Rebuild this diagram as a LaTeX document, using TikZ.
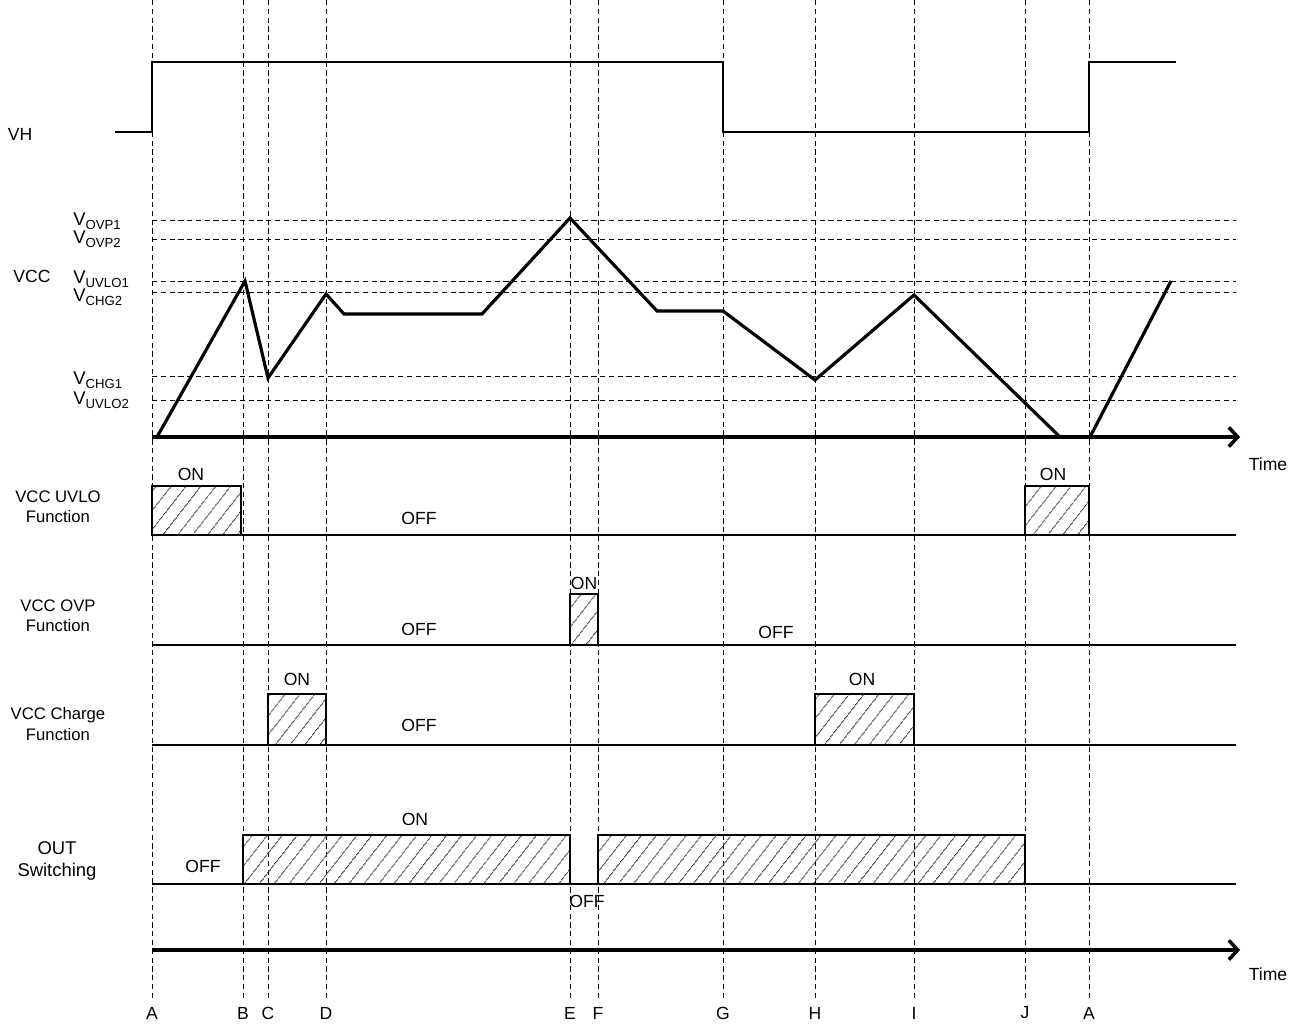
\documentclass[tikz,border=0pt]{standalone}
\usepackage{fontspec}
\setmainfont{Liberation Sans}
\usetikzlibrary{arrows.meta, patterns.meta}

\begin{document}
\begin{tikzpicture}[x=0.02cm, y=-0.02cm, every node/.style={font=\fontsize{10}{12}\selectfont},
    guide/.style={dash pattern=on 3pt off 2pt, line width=0.5pt},
    level/.style={dash pattern=on 3pt off 2pt, line width=0.5pt},
    base/.style={line width=1.4pt},
    wave/.style={line width=1.8pt, line join=miter},
    hatch/.style={draw, line width=1.3pt, pattern={Lines[angle=52, distance=6.5pt, line width=0.5pt]}, pattern color=black!75},
    axis/.style={line width=2pt, -{Straight Barb[length=5pt, width=11pt, line width=2pt]}},
    sig/.style={font=\fontsize{9.5}{11.5}\selectfont, align=center},
    lvl/.style={anchor=base west, font=\fontsize{10.5}{12}\selectfont, inner sep=0pt}]
    \useasboundingbox (0,0) rectangle (1298,1024);
    % time markers
    \foreach \nm/\x/\t in {a/152/A, b/243/B, c/268/C, d/326/D, e/570/E, f/598/F, g/723/G, h/815/H, i/914/I, j/1025/J, a2/1089/A} {
        \coordinate (top-\nm) at (\x,0);
        \node (\nm) at (\x,1013) {\t};
        \draw[guide] (top-\nm) -- (\nm.north);
    }
    % VH
    \node (vh) at (20,134) {VH};
    \draw[line width=1.5pt] (115,132) -- (152,132) -- (152,62) -- (723,62) -- (723,132) -- (1089,132) -- (1089,62) -- (1176,62);
    % VCC levels
    \node (vcc) at (32,276) {VCC};
    \foreach \nm/\y/\b/\t in {ovp1/220/225/OVP1, ovp2/239/243/OVP2, uvlo1/281/283/UVLO1, chg2/292/301/CHG2, chg1/376/384/CHG1, uvlo2/400/404/UVLO2} {
        \node[lvl] (\nm) at (73,\b) {V\raisebox{-2.5pt}{\fontsize{7.5}{8}\selectfont\t}};
        \coordinate (end-\nm) at (1236,\y);
        \draw[level] (top-a |- end-\nm) -- (end-\nm);
    }
    \coordinate (t0) at (152,437);
    \coordinate (t1) at (1240,437);
    \draw[axis] (t0) -- (t1);
    \node (time1) at (1268,464) {Time};
    \draw[wave] (157,437) -- (245,281) -- (268,378) -- (326,294) -- (344,314) -- (482,314) -- (570,218) -- (657,311)
        -- (723,311) -- (815,380) -- (914,295) -- (1060,437);
    \draw[wave] (1090,437) -- (1171,281);
    % UVLO
    \node[sig] (uvlo) at (58,507) {VCC UVLO\\Function};
    \draw[hatch] (152,486) rectangle (241,535);
    \draw[hatch] (1025,486) rectangle (1089,535);
    \draw[base] (152,535) -- (1236,535);
    \node (uvlo on1) at (191,474) {ON};
    \node (uvlo on2) at (1053,474) {ON};
    \node (uvlo off) at (419,518) {OFF};
    % OVP
    \node[sig] (ovp) at (58,616) {VCC OVP\\Function};
    \draw[hatch] (570,594) rectangle (598,645);
    \draw[base] (152,645) -- (1236,645);
    \node (ovp on) at (584,583) {ON};
    \node (ovp off1) at (419,629) {OFF};
    \node (ovp off2) at (776,632) {OFF};
    % charge
    \node[sig] (chg) at (58,724) {VCC Charge\\Function};
    \draw[hatch] (268,694) rectangle (326,745);
    \draw[hatch] (815,694) rectangle (914,745);
    \draw[base] (152,745) -- (1236,745);
    \node (chg on1) at (297,679) {ON};
    \node (chg on2) at (862,679) {ON};
    \node (chg off) at (419,725) {OFF};
    % OUT
    \node[sig, font=\fontsize{10.5}{12.5}\selectfont] (out) at (57,861) {OUT\\Switching};
    \draw[hatch] (243,835) rectangle (570,884);
    \draw[hatch] (598,835) rectangle (1025,884);
    \draw[base] (152,884) -- (1236,884);
    \node (out on) at (415,819) {ON};
    \node (out off1) at (203,866) {OFF};
    \node (out off2) at (587,901) {OFF};
    % time axis
    \coordinate (s0) at (152,950);
    \coordinate (s1) at (1240,950);
    \draw[axis] (s0) -- (s1);
    \node (time2) at (1268,974) {Time};
\end{tikzpicture}
\end{document}
